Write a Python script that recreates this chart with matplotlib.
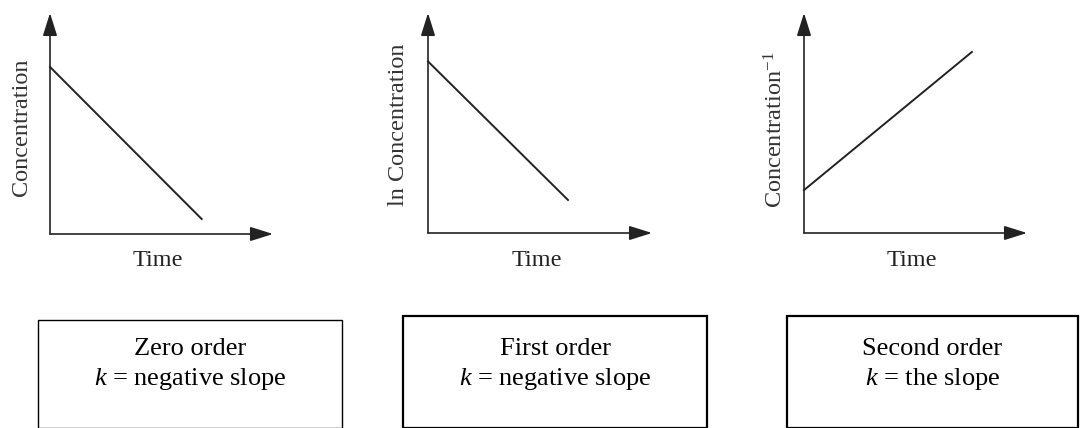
# integrated rate law sketches: zero, first and second order

import matplotlib
matplotlib.use('Agg')
import matplotlib.pyplot as plt
from matplotlib.patches import Rectangle

plt.rcParams['font.family'] = ['Liberation Serif', 'DejaVu Serif']
plt.rcParams['mathtext.fontset'] = 'custom'
plt.rcParams['mathtext.rm'] = 'Liberation Serif'
plt.rcParams['mathtext.it'] = 'Liberation Serif:italic'

# line end points in axes units (0..1)
zero_time = [0, 0.68]
zero_conc = [0.756, 0.068]
first_time = [0, 0.625]
first_lnconc = [0.78, 0.15]
second_time = [0, 0.753]
second_invconc = [0.195, 0.823]

ylabels = ['Concentration', 'ln Concentration', 'Concentration$^{-1}$']
xlabel = 'Time'
box_titles = ['Zero order', 'First order', 'Second order']
box_rules = ['$k$ = negative slope', '$k$ = negative slope', '$k$ = the slope']

W, H = 1083, 428
fig = plt.figure(figsize=(W / 100, H / 100), dpi=100)

# pixel layout: (origin x, origin y, arrow tip x, arrow tip y)
panels = [(50, 234, 273, 13), (428, 233, 652, 13), (804, 233, 1027, 13)]
series = [(zero_time, zero_conc), (first_time, first_lnconc), (second_time, second_invconc)]
label_off = [28, 30, 28]
label_ypos = [0.484, 0.49, 0.47]

ink = '#222222'
for (x0, y0, x1, y1), (t, c), lab, off, ly in zip(panels, series, ylabels, label_off, label_ypos):
    ax = fig.add_axes([x0 / W, (H - y0) / H, (x1 - x0) / W, (y0 - y1) / H])
    ax.set_xlim(0, 1)
    ax.set_ylim(0, 1)
    ax.axis('off')
    ax.plot(t, c, color=ink, lw=1.4, clip_on=False)
    arrow = dict(arrowstyle='-|>,head_length=0.7,head_width=0.22', color=ink,
                 lw=1.2, mutation_scale=20, shrinkA=0, shrinkB=0)
    ax.annotate('', xy=(1, 0), xytext=(0, 0), xycoords='axes fraction', arrowprops=arrow)
    ax.annotate('', xy=(0, 1), xytext=(0, 0), xycoords='axes fraction', arrowprops=arrow)
    ax.text(0.485, -27 / (y0 - y1), xlabel, transform=ax.transAxes, ha='center', va='center',
            fontsize=17.5, color=ink)
    ax.text(-off / (x1 - x0), ly, lab, transform=ax.transAxes, ha='center', va='center',
            rotation=90, fontsize=17.5, color='#333333')

# boxes below: (left, top, right, line width)
boxes = [(38, 320, 342, 1.0), (403, 316, 707, 1.6), (787, 316, 1078, 1.6)]
for (bl, bt, br, blw), title, rule in zip(boxes, box_titles, box_rules):
    fig.patches.append(Rectangle((bl / W, 0.5 / H), (br - bl) / W, (H - 0.5 - bt) / H,
                                 transform=fig.transFigure, fill=False, ec='black', lw=blw))
    cx = (bl + br) / 2 / W
    fig.text(cx, (H - 349) / H, title, ha='center', va='center', fontsize=19)
    fig.text(cx, (H - 379) / H, rule, ha='center', va='center', fontsize=19)

fig.savefig('out.png', dpi=100)
